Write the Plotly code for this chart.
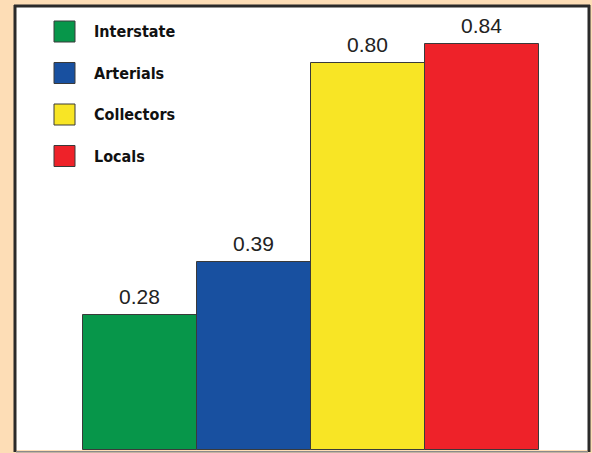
import plotly.graph_objects as go

categories = ["Interstate", "Arterials", "Collectors", "Locals"]
values = [0.28, 0.39, 0.80, 0.84]
value_labels = ["0.28", "0.39", "0.80", "0.84"]
colors = ["#07964A", "#1850A0", "#F8E525", "#EE2229"]

W, H = 592, 453
L, R, T, B = 16, 4, 7, 3
pw, ph = W - L - R, H - T - B

def px(x):
    return (x - L) / pw

def py(y):
    return (H - B - y) / ph

fig = go.Figure()
fig.add_trace(go.Bar(
    x=categories, y=values,
    marker=dict(color=colors, line=dict(color="#3a3a3a", width=1)),
    showlegend=False, hoverinfo="skip",
))

shapes = []
annotations = []
# value labels above bars
for cat, v, lab in zip(categories, values, value_labels):
    annotations.append(dict(x=cat, y=v, xref="x", yref="y", text=lab, showarrow=False,
                            yanchor="bottom", yshift=5,
                            font=dict(family="Liberation Sans, Arial, sans-serif",
                                      size=21, color="#222222")))
# legend (layout)
for i, (name, c) in enumerate(zip(categories, colors)):
    cy = 31.5 + i * 41.5
    shapes.append(dict(type="rect", xref="paper", yref="paper",
                       x0=px(54), x1=px(75), y0=py(cy + 10.5), y1=py(cy - 10.5),
                       fillcolor=c, line=dict(color="#3a3a3a", width=1)))
    annotations.append(dict(xref="paper", yref="paper", x=px(92), y=py(cy),
                            xanchor="left", yanchor="middle", text="<b>%s</b>" % name,
                            showarrow=False,
                            font=dict(family="DejaVu Sans Condensed, sans-serif",
                                      size=16, color="#111111")))
# frame
shapes.append(dict(type="line", xref="paper", yref="paper", x0=px(15), x1=px(15),
                   y0=py(452), y1=py(5), line=dict(color="#2a2a2a", width=3)))
shapes.append(dict(type="line", xref="paper", yref="paper", x0=px(14), x1=px(590),
                   y0=py(6), y1=py(6), line=dict(color="#2a2a2a", width=3)))
shapes.append(dict(type="line", xref="paper", yref="paper", x0=px(589), x1=px(589),
                   y0=py(452), y1=py(5), line=dict(color="#2a2a2a", width=3)))
shapes.append(dict(type="line", xref="paper", yref="paper", x0=px(16), x1=px(588),
                   y0=py(451.8), y1=py(451.8), line=dict(color="#8a8a8a", width=1.5)))

fig.update_layout(
    width=W, height=H,
    margin=dict(l=L, r=R, t=T, b=B, pad=0),
    paper_bgcolor="#FDDDB6", plot_bgcolor="#FFFFFF",
    bargap=0,
    xaxis=dict(type="category", range=[-1.0877, 3.93], showticklabels=False,
               showgrid=False, zeroline=False, showline=False, ticks="", fixedrange=True),
    yaxis=dict(range=[0, 0.9166], showticklabels=False, showgrid=False,
               zeroline=False, showline=False, ticks="", fixedrange=True),
    shapes=shapes, annotations=annotations,
    font=dict(family="Liberation Sans, Arial, sans-serif"),
)

fig.write_html("out.html", config={"displayModeBar": False},
               post_script="document.body.style.margin='0';document.body.style.overflow='hidden';")
